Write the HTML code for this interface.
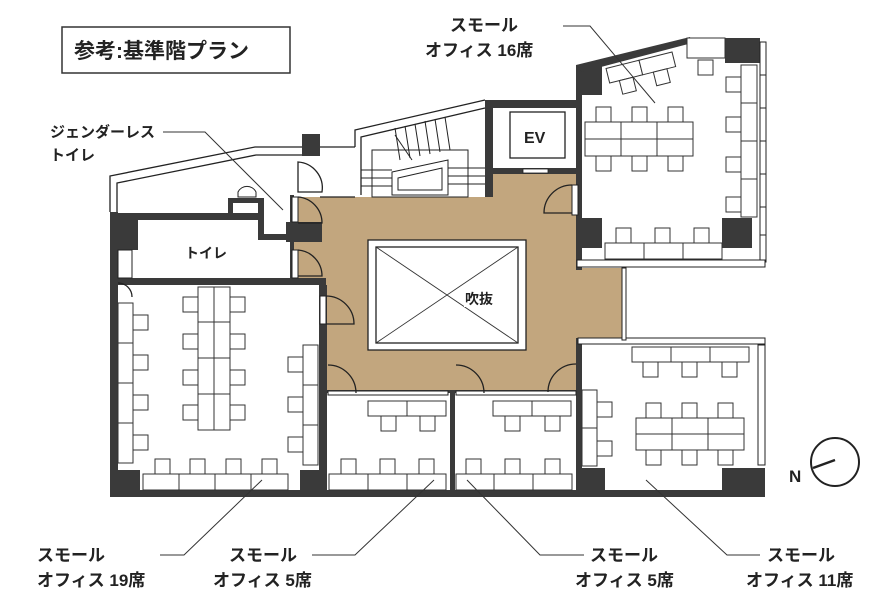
<!DOCTYPE html>
<html><head><meta charset="utf-8"><style>
html,body{margin:0;padding:0;background:#fff;}
svg{display:block;}
text{font-family:"Liberation Sans","Noto Sans CJK JP",sans-serif;font-weight:bold;fill:#222;}
</style></head><body>
<svg width="880" height="616" viewBox="0 0 880 616" xmlns="http://www.w3.org/2000/svg">
<rect x="62" y="27" width="228" height="46" fill="#fff" stroke="#333" stroke-width="1.5"/>
<text x="74" y="58" font-size="21">参考:基準階プラン</text>

<polygon points="292,197 485,197 485,172 578,172 578,268 622,268 622,340 578,340 578,393 326,393 326,285 292,285" fill="#c2a67e"/>

<g fill="none" stroke="#222" stroke-width="1.3">
<polyline points="110,212 110,176 255,147 355,147"/>
<polyline points="117,212 117,183 256,155 302,155"/>
<polyline points="355,147 355,130 485,100"/>
<polyline points="361,195 361,137 485,108"/>
<line x1="320" y1="197" x2="355" y2="197"/>
</g>
<rect x="302" y="134" width="18" height="22" fill="#3a3a3a"/>
<g stroke="#222" stroke-width="1" fill="none">
<rect x="372" y="150" width="96" height="47"/>
<polygon points="392,172 448,160 448,195 392,195" fill="#fff"/>
<polygon points="398,178 442,168 442,190 398,190"/>
<line x1="395" y1="128" x2="400" y2="160"/><line x1="405" y1="126" x2="410" y2="158"/>
<line x1="415" y1="124" x2="420" y2="156"/><line x1="425" y1="121" x2="430" y2="154"/>
<line x1="435" y1="119" x2="440" y2="152"/><line x1="445" y1="117" x2="450" y2="150"/>
<line x1="361" y1="170" x2="392" y2="170"/><line x1="361" y1="178" x2="392" y2="178"/>
<line x1="361" y1="186" x2="392" y2="186"/><line x1="448" y1="168" x2="485" y2="168"/>
<line x1="448" y1="176" x2="485" y2="176"/><line x1="448" y1="184" x2="485" y2="184"/>
<line x1="395" y1="135" x2="412" y2="160"/>
</g>
<rect x="485" y="100" width="93" height="8" fill="#3a3a3a"/>
<rect x="485" y="100" width="8" height="97" fill="#3a3a3a"/>
<rect x="485" y="168" width="93" height="6" fill="#3a3a3a"/>
<rect x="523" y="169" width="25" height="4" fill="#fff" stroke="#222" stroke-width="0.8"/>
<rect x="510" y="112" width="55" height="46" fill="#fff" stroke="#222" stroke-width="1.3"/>
<text x="524" y="143" font-size="16">EV</text>

<g fill="#3a3a3a">
<rect x="110" y="212" width="8" height="285"/>
<rect x="110" y="215" width="28" height="35"/>
<rect x="118" y="213" width="140" height="7"/>
<rect x="118" y="278" width="208" height="7"/>
<rect x="319" y="285" width="8" height="212"/>
<rect x="110" y="490" width="655" height="7"/>
<rect x="112" y="470" width="28" height="27"/>
<rect x="300" y="470" width="27" height="27"/>
<rect x="258" y="198" width="6" height="42"/>
<rect x="258" y="234" width="34" height="6"/>
<rect x="228" y="198" width="32" height="5"/>
<rect x="228" y="198" width="5" height="20"/>
<rect x="286" y="222" width="36" height="20"/>
<rect x="290" y="195" width="4" height="90"/>
<rect x="450" y="393" width="5" height="104"/>
<rect x="576" y="338" width="6" height="159"/>
<rect x="578" y="468" width="27" height="29"/>
<rect x="722" y="468" width="43" height="29"/>
<rect x="326" y="390" width="252" height="3"/>
<rect x="576" y="65" width="6" height="205"/>
<rect x="576" y="65" width="26" height="30"/>
<rect x="725" y="38" width="35" height="25"/>
<rect x="576" y="218" width="26" height="30"/>
<rect x="722" y="218" width="30" height="30"/>
<polygon points="576,65 690,37 692,43 582,72"/>
</g>
<text x="185" y="258" font-size="14">トイレ</text>
<rect x="118" y="250" width="14" height="28" fill="#fff" stroke="#222" stroke-width="1"/>
<path d="M238,192 a10,10 0 0 1 18,0 v5 h-18 z" fill="#fff" stroke="#222"/>

<g fill="#fff" stroke="#222" stroke-width="1">
<rect x="690" y="38" width="35" height="6"/>
<rect x="760" y="42" width="6" height="220"/>
<line x1="760" y1="75" x2="766" y2="75"/><line x1="760" y1="108" x2="766" y2="108"/>
<line x1="760" y1="141" x2="766" y2="141"/><line x1="760" y1="174" x2="766" y2="174"/>
<line x1="760" y1="207" x2="766" y2="207"/><line x1="760" y1="235" x2="766" y2="235"/>
<rect x="577" y="260" width="188" height="7"/>
<rect x="578" y="338" width="187" height="6"/>
<rect x="758" y="345" width="7" height="120"/>
<rect x="622" y="268" width="4" height="72"/>
<rect x="328" y="391" width="120" height="4"/>
<rect x="456" y="391" width="120" height="4"/>
<rect x="292" y="197" width="6" height="25"/>
<rect x="292" y="250" width="6" height="28"/>
<rect x="320" y="296" width="6" height="28"/>
<rect x="572" y="185" width="6" height="30"/>
</g>
<g fill="none" stroke="#222" stroke-width="1.3">
<path d="M298,197 a26,26 0 0 1 24,26 h-24"/>
<path d="M298,250 a26,26 0 0 1 24,26 h-24"/>
<path d="M326,296 a28,28 0 0 1 28,28 h-28"/>
<path d="M298,162 a26,26 0 0 1 24,30 h-24 z"/>
<path d="M572,185 a28,28 0 0 0 -28,28 h28"/>
<path d="M328,365 a28,28 0 0 1 28,28"/>
<path d="M456,365 a28,28 0 0 1 28,28"/>
<path d="M576,364 a28,28 0 0 0 -28,28"/>
<path d="M118,283 a14,14 0 0 1 14,14"/>
</g>

<rect x="368" y="240" width="158" height="110" fill="#fff" stroke="#222" stroke-width="1.3"/>
<rect x="376" y="247" width="142" height="96" fill="#fff" stroke="#222" stroke-width="1.3"/>
<line x1="376" y1="247" x2="518" y2="343" stroke="#333" stroke-width="0.9"/>
<line x1="518" y1="247" x2="376" y2="343" stroke="#333" stroke-width="0.9"/>
<rect x="464" y="289" width="30" height="18" fill="#fff"/>
<text x="465" y="304" font-size="14">吹抜</text>

<g fill="#fff" stroke="#333" stroke-width="1">
<rect x="198" y="287" width="16" height="35"/><rect x="214" y="287" width="16" height="35"/>
<rect x="198" y="322" width="16" height="36"/><rect x="214" y="322" width="16" height="36"/>
<rect x="198" y="358" width="16" height="36"/><rect x="214" y="358" width="16" height="36"/>
<rect x="198" y="394" width="16" height="36"/><rect x="214" y="394" width="16" height="36"/>
<rect x="183" y="297" width="15" height="15"/><rect x="183" y="334" width="15" height="15"/><rect x="183" y="370" width="15" height="15"/><rect x="183" y="405" width="15" height="15"/>
<rect x="230" y="297" width="15" height="15"/><rect x="230" y="334" width="15" height="15"/><rect x="230" y="370" width="15" height="15"/><rect x="230" y="405" width="15" height="15"/>
<rect x="118" y="303" width="15" height="40"/><rect x="118" y="343" width="15" height="40"/><rect x="118" y="383" width="15" height="40"/><rect x="118" y="423" width="15" height="40"/>
<rect x="133" y="315" width="15" height="15"/><rect x="133" y="355" width="15" height="15"/><rect x="133" y="395" width="15" height="15"/><rect x="133" y="435" width="15" height="15"/>
<rect x="303" y="345" width="15" height="40"/><rect x="303" y="385" width="15" height="40"/><rect x="303" y="425" width="15" height="40"/>
<rect x="288" y="357" width="15" height="15"/><rect x="288" y="397" width="15" height="15"/><rect x="288" y="437" width="15" height="15"/>
<rect x="143" y="474" width="36" height="16"/><rect x="179" y="474" width="36" height="16"/><rect x="215" y="474" width="36" height="16"/><rect x="251" y="474" width="37" height="16"/>
<rect x="155" y="459" width="15" height="15"/><rect x="190" y="459" width="15" height="15"/><rect x="226" y="459" width="15" height="15"/><rect x="262" y="459" width="15" height="15"/>
<rect x="368" y="401" width="39" height="15"/><rect x="407" y="401" width="39" height="15"/>
<rect x="381" y="416" width="15" height="15"/><rect x="420" y="416" width="15" height="15"/>
<rect x="329" y="474" width="39" height="16"/><rect x="368" y="474" width="39" height="16"/><rect x="407" y="474" width="39" height="16"/>
<rect x="341" y="459" width="15" height="15"/><rect x="380" y="459" width="15" height="15"/><rect x="419" y="459" width="15" height="15"/>
<rect x="493" y="401" width="39" height="15"/><rect x="532" y="401" width="39" height="15"/>
<rect x="505" y="416" width="15" height="15"/><rect x="545" y="416" width="15" height="15"/>
<rect x="456" y="474" width="38" height="16"/><rect x="494" y="474" width="39" height="16"/><rect x="533" y="474" width="39" height="16"/>
<rect x="466" y="459" width="15" height="15"/><rect x="505" y="459" width="15" height="15"/><rect x="545" y="459" width="15" height="15"/>
<rect x="632" y="347" width="39" height="15"/><rect x="671" y="347" width="39" height="15"/><rect x="710" y="347" width="39" height="15"/>
<rect x="643" y="362" width="15" height="15"/><rect x="682" y="362" width="15" height="15"/><rect x="722" y="362" width="15" height="15"/>
<rect x="636" y="418" width="36" height="16"/><rect x="672" y="418" width="36" height="16"/><rect x="708" y="418" width="36" height="16"/>
<rect x="636" y="434" width="36" height="16"/><rect x="672" y="434" width="36" height="16"/><rect x="708" y="434" width="36" height="16"/>
<rect x="646" y="403" width="15" height="15"/><rect x="682" y="403" width="15" height="15"/><rect x="718" y="403" width="15" height="15"/>
<rect x="646" y="450" width="15" height="15"/><rect x="682" y="450" width="15" height="15"/><rect x="718" y="450" width="15" height="15"/>
<rect x="582" y="390" width="15" height="38"/><rect x="582" y="428" width="15" height="38"/>
<rect x="597" y="402" width="15" height="15"/><rect x="597" y="441" width="15" height="15"/>
<rect x="585" y="122" width="36" height="17"/><rect x="621" y="122" width="36" height="17"/><rect x="657" y="122" width="36" height="17"/>
<rect x="585" y="139" width="36" height="17"/><rect x="621" y="139" width="36" height="17"/><rect x="657" y="139" width="36" height="17"/>
<rect x="596" y="107" width="15" height="15"/><rect x="632" y="107" width="15" height="15"/><rect x="668" y="107" width="15" height="15"/>
<rect x="596" y="156" width="15" height="15"/><rect x="632" y="156" width="15" height="15"/><rect x="668" y="156" width="15" height="15"/>
<rect x="741" y="65" width="16" height="38"/><rect x="741" y="103" width="16" height="38"/><rect x="741" y="141" width="16" height="38"/><rect x="741" y="179" width="16" height="38"/>
<rect x="726" y="77" width="15" height="15"/><rect x="726" y="117" width="15" height="15"/><rect x="726" y="157" width="15" height="15"/><rect x="726" y="197" width="15" height="15"/>
<rect x="605" y="243" width="39" height="16"/><rect x="644" y="243" width="39" height="16"/><rect x="683" y="243" width="39" height="16"/>
<rect x="616" y="228" width="15" height="15"/><rect x="655" y="228" width="15" height="15"/><rect x="694" y="228" width="15" height="15"/>
<rect x="687" y="38" width="38" height="20"/><rect x="698" y="60" width="15" height="15"/>
<g transform="rotate(-14 640 60)">
<rect x="605" y="60" width="34" height="15"/><rect x="639" y="60" width="34" height="15"/>
<rect x="615" y="75" width="14" height="14"/><rect x="650" y="75" width="14" height="14"/>
</g>
</g>

<circle cx="835" cy="462" r="24" fill="none" stroke="#222" stroke-width="2"/>
<line x1="813" y1="468" x2="835" y2="460" stroke="#222" stroke-width="2.5"/>
<text x="789" y="482" font-size="17">N</text>

<g fill="none" stroke="#333" stroke-width="1">
<polyline points="163,132 205,132 283,210"/>
<polyline points="563,26 590,26 655,103"/>
<polyline points="160,555 184,555 262,480"/>
<polyline points="312,555 355,555 434,480"/>
<polyline points="584,555 540,555 467,480"/>
<polyline points="760,555 727,555 646,480"/>
</g>

<g font-size="15">
<text x="50" y="137">ジェンダーレス</text>
<text x="50" y="160">トイレ</text>
</g>
<g font-size="17">
<text x="450" y="31">スモール</text>
<text x="425" y="56">オフィス 16席</text>
<text x="37" y="561">スモール</text>
<text x="37" y="586">オフィス 19席</text>
<text x="229" y="561">スモール</text>
<text x="213" y="586">オフィス 5席</text>
<text x="590" y="561">スモール</text>
<text x="575" y="586">オフィス 5席</text>
<text x="767" y="561">スモール</text>
<text x="746" y="586">オフィス 11席</text>
</g>
</svg>
</body></html>
